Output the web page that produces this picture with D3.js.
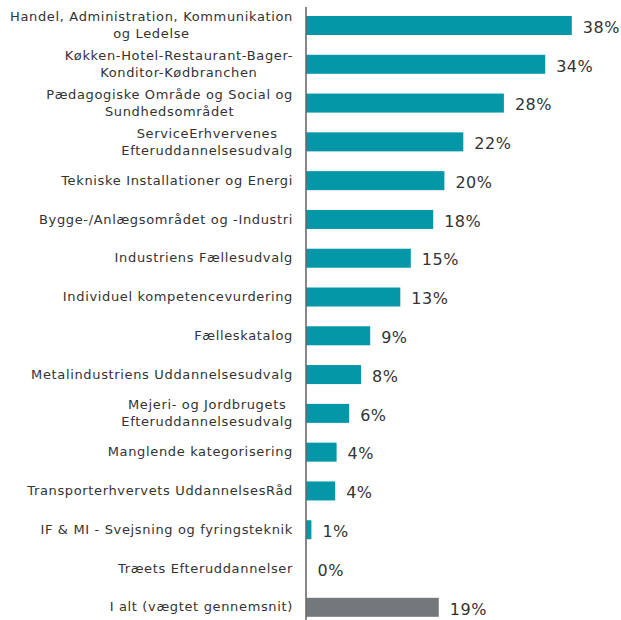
<!DOCTYPE html>
<html>
<head>
<meta charset="utf-8">
<script src="https://cdn.jsdelivr.net/npm/d3@7"></script>
<style>
  html, body { margin: 0; padding: 0; background: #fff; }
  svg { display: block; }
</style>
</head>
<body>
<div id="chart"></div>
<script>
// Kategorier (linjeskift markeret med \n, som i originalen)
const categories = [
    "Handel, Administration, Kommunikation\nog Ledelse",
    "Køkken-Hotel-Restaurant-Bager-\nKonditor-Kødbranchen",
    "Pædagogiske Område og Social og\nSundhedsområdet",
    "ServiceErhvervenes\nEfteruddannelsesudvalg",
    "Tekniske Installationer og Energi",
    "Bygge-/Anlægsområdet og -Industri",
    "Industriens Fællesudvalg",
    "Individuel kompetencevurdering",
    "Fælleskatalog",
    "Metalindustriens Uddannelsesudvalg",
    "Mejeri- og Jordbrugets\nEfteruddannelsesudvalg",
    "Manglende kategorisering",
    "Transporterhvervets UddannelsesRåd",
    "IF & MI - Svejsning og fyringsteknik",
    "Træets Efteruddannelser",
    "I alt (vægtet gennemsnit)"
];

// Andele i procent
const values = [37.9, 34.1, 28.2, 22.4, 19.7, 18.1, 14.9, 13.4, 9.1, 7.8, 6.1, 4.3, 4.1, 0.7, 0, 18.9];

// Sidste række er totalen -> grå
const totalIndex = categories.length - 1;

const width = 621, height = 620;
const axisX = 306.5;

const svg = d3.select("#chart").append("svg")
    .attr("width", width)
    .attr("height", height)
    .attr("viewBox", [0, 0, width, height]);

const x = d3.scaleLinear()
    .domain([0, 40])
    .range([axisX, axisX + 280]);

const y = d3.scaleBand()
    .domain(d3.range(categories.length))
    .range([6.3, 626.5])
    .paddingInner(0.51)
    .paddingOuter(0.25);

const rows = values.map((v, i) => ({ i, label: categories[i], value: v }));

// --- Søjler ---
svg.append("g")
    .selectAll("rect")
    .data(rows)
    .join("rect")
    .attr("x", x(0))
    .attr("y", d => y(d.i))
    .attr("width", d => x(d.value) - x(0))
    .attr("height", y.bandwidth())
    .attr("fill", d => d.i === totalIndex ? "#75787b" : "#0397a8");

// --- Akse ---
svg.append("line")
    .attr("x1", axisX - 0.5).attr("x2", axisX - 0.5)
    .attr("y1", 7).attr("y2", height)
    .attr("stroke", "#3a3a3a")
    .attr("stroke-width", 1.2);

// --- Værdier ---
svg.append("g")
    .attr("font-family", "'DejaVu Sans', Verdana, sans-serif")
    .attr("font-size", 16)
    .attr("letter-spacing", 0.5)
    .attr("fill", "#333")
    .selectAll("text")
    .data(rows)
    .join("text")
    .attr("x", d => x(d.value) + 11)
    .attr("y", d => y(d.i) + y.bandwidth() / 2 + 1.5)
    .attr("dy", "0.36em")
    .text(d => Math.round(d.value) + "%");

// --- Kategorinavne (linjer centreret indbyrdes, blok højrestillet) ---
const labelRight = 293;
const lineHeight = 17;
const labels = svg.append("g")
    .attr("font-family", "'DejaVu Sans', Verdana, sans-serif")
    .attr("font-size", 13)
    .attr("letter-spacing", 0.65)
    .attr("fill", "#333");

rows.forEach(d => {
    const lines = d.label.split("\n");
    const cy = y(d.i) + y.bandwidth() / 2 - 0.5;
    const g = labels.append("g");
    const texts = lines.map((line, k) => g.append("text")
        .attr("y", cy + (k - (lines.length - 1) / 2) * lineHeight)
        .attr("dy", "0.36em")
        .attr("text-anchor", "middle")
        .text(line));
    const widest = d3.max(texts, t => t.node().getComputedTextLength());
    texts.forEach(t => t.attr("x", labelRight - widest / 2));
});
</script>
</body>
</html>
